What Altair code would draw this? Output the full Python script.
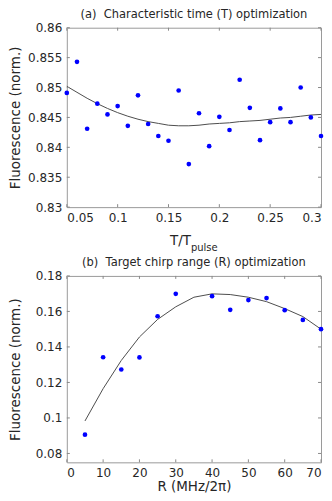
import altair as alt
import pandas as pd

# ---------------- data ----------------
t_vals = [0.05, 0.06, 0.07, 0.08, 0.09, 0.10, 0.11, 0.12, 0.13, 0.14, 0.15, 0.16, 0.17,
          0.18, 0.19, 0.20, 0.21, 0.22, 0.23, 0.24, 0.25, 0.26, 0.27, 0.28, 0.29, 0.30]
fluor_a = [0.8491, 0.8543, 0.8431, 0.8473, 0.8455, 0.8469, 0.8436, 0.8487, 0.8439, 0.8419,
           0.8411, 0.8495, 0.8372, 0.8457, 0.8402, 0.8451, 0.8429, 0.8513, 0.8466, 0.8412,
           0.8442, 0.8465, 0.8442, 0.8500, 0.8450, 0.8419]
fit_a = [0.8502, 0.8492, 0.8482, 0.8473, 0.8465, 0.8458, 0.8452, 0.8447, 0.8443, 0.8440,
         0.8437, 0.8436, 0.8436, 0.8437, 0.8439, 0.8440, 0.8441, 0.8443, 0.8444, 0.8445,
         0.8447, 0.8449, 0.8450, 0.8452, 0.8454, 0.8455]

r_vals = [5, 10, 15, 20, 25, 30, 40, 45, 50, 55, 60, 65, 70]
fluor_b = [0.0906, 0.1342, 0.1273, 0.1341, 0.1573, 0.1699, 0.1686, 0.1609, 0.1664,
           0.1675, 0.1607, 0.1552, 0.1500]
r_fit = [5, 10, 15, 20, 25, 30, 35, 40, 45, 50, 55, 60, 65, 70]
fit_b = [0.0983, 0.1165, 0.1324, 0.1456, 0.1555, 0.1626, 0.1680, 0.1699, 0.1695,
         0.1680, 0.1655, 0.1616, 0.1571, 0.1500]

xticks_a = [0.05, 0.1, 0.15, 0.2, 0.25, 0.3]
yticks_a = [0.83, 0.835, 0.84, 0.845, 0.85, 0.855, 0.86]
xticks_b = [0, 10, 20, 30, 40, 50, 60, 70]
yticks_b = [0.08, 0.1, 0.12, 0.14, 0.16, 0.18]

title_a = "(a)\u00a0 Characteristic time (T) optimization"
title_b = "(b)\u00a0 Target chirp range (R) optimization"
ytitle = "Fluorescence (norm.)"
xtitle_b = "R (MHz/2\u03c0)"

# ---------------- style ----------------
FONT = "DejaVu Sans"
TXT = "#262626"
TICK = "#8a8a8a"
W = 255
HA = 180
HB = 187
TL = 3  # inward tick length


def panel(pts, fit, xdom, ydom, xt, yt, H, xtitle, xfmt):
    X = alt.X("x:Q", scale=alt.Scale(domain=xdom, nice=False, zero=False),
              axis=alt.Axis(values=xt, title=xtitle, format=xfmt))
    Y = alt.Y("y:Q", scale=alt.Scale(domain=ydom, nice=False, zero=False),
              axis=alt.Axis(values=yt, title=ytitle, format="~g", titleX=-44,
                            titleAngle=270, titleBaseline="bottom"))
    xtdf = pd.DataFrame({"x": xt})
    ytdf = pd.DataFrame({"y": yt})
    layers = [
        alt.Chart(fit).mark_line(color="#4d4d4d", strokeWidth=1).encode(x=X, y=Y),
        alt.Chart(pts).mark_circle(color="#0000ff", size=22, opacity=1).encode(x=X, y=Y),
        alt.Chart(ytdf).mark_rule(color=TICK).encode(y=Y, x=alt.value(0), x2=alt.value(TL)),
        alt.Chart(ytdf).mark_rule(color=TICK).encode(y=Y, x=alt.value(W - TL), x2=alt.value(W)),
        alt.Chart(xtdf).mark_rule(color=TICK).encode(x=X, y=alt.value(H), y2=alt.value(H - TL)),
        alt.Chart(xtdf).mark_rule(color=TICK).encode(x=X, y=alt.value(0), y2=alt.value(TL)),
    ]
    return layers


pts_a = pd.DataFrame({"x": t_vals, "y": fluor_a})
fit_a_df = pd.DataFrame({"x": t_vals, "y": fit_a})
pts_b = pd.DataFrame({"x": r_vals, "y": fluor_b})
fit_b_df = pd.DataFrame({"x": r_fit, "y": fit_b})

layers_a = panel(pts_a, fit_a_df, [0.05, 0.3], [0.83, 0.86], xticks_a, yticks_a, HA, None, "~g")
# x title with subscript: "T/T" + "pulse"
cx = W / 2 - 3
layers_a.append(
    alt.Chart(pd.DataFrame({"t": ["T/T"]})).mark_text(
        align="right", baseline="alphabetic", font=FONT, fontSize=13.5, color=TXT
    ).encode(text="t:N", x=alt.value(cx), y=alt.value(HA + 38))
)
layers_a.append(
    alt.Chart(pd.DataFrame({"t": ["pulse"]})).mark_text(
        align="left", baseline="alphabetic", font=FONT, fontSize=10, color=TXT
    ).encode(text="t:N", x=alt.value(cx), y=alt.value(HA + 44))
)

chart_a = alt.layer(*layers_a).properties(
    width=W, height=HA,
    title=alt.TitleParams(title_a, font=FONT, fontSize=11.5, fontWeight="normal", color=TXT,
                          offset=1, anchor="middle"),
)

layers_b = panel(pts_b, fit_b_df, [0, 70], [0.075, 0.18], xticks_b, yticks_b, HB, xtitle_b, "d")
chart_b = alt.layer(*layers_b).properties(
    width=W, height=HB,
    title=alt.TitleParams(title_b, font=FONT, fontSize=11.5, fontWeight="normal", color=TXT,
                          offset=1, anchor="middle"),
)

chart = alt.vconcat(chart_a, chart_b, spacing=3).properties(
    padding={"left": 0, "right": 0, "top": 0, "bottom": 0}
).configure_view(
    stroke="#9a9a9a", strokeWidth=1
).configure_axis(
    grid=False, ticks=False, domain=False,
    labelFont=FONT, labelFontSize=12, labelColor=TXT, labelPadding=5,
    titleFont=FONT, titleFontSize=13.5, titleFontWeight="normal", titleColor=TXT,
    titlePadding=1,
)

chart.save("out.html", embed_options={"renderer": "svg", "actions": False})
